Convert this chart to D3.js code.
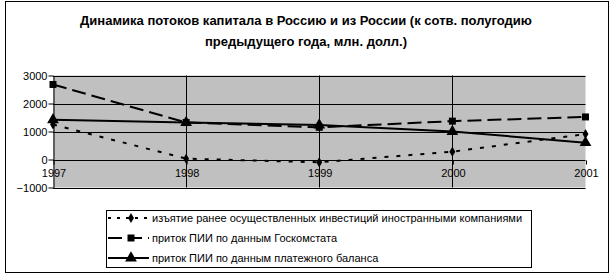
<!DOCTYPE html>
<html>
<head>
<meta charset="utf-8">
<script src="https://cdn.jsdelivr.net/npm/d3@7"></script>
<style>
  body { margin: 0; background: #fff; }
  svg { font-family: Arial, "Liberation Sans", sans-serif; }
</style>
</head>
<body>
<svg id="chart"></svg>
<script>
// chart data
const years = ['1997', '1998', '1999', '2000', '2001'];
const withdrawal = [1250, 30, -100, 280, 910];     // изъятие ранее осуществленных инвестиций
const goskomstat = [2680, 1320, 1150, 1370, 1520];  // приток ПИИ по данным Госкомстата
const balance = [1420, 1320, 1230, 1000, 600];      // приток ПИИ по данным платежного баланса
const yTicks = [-1000, 0, 1000, 2000, 3000];

const titleLines = ['Динамика потоков капитала в Россию и из России (к сотв. полугодию',
                    'предыдущего года, млн. долл.)'];
const seriesNames = ['изъятие ранее осуществленных инвестиций иностранными компаниями',
                     'приток ПИИ по данным Госкомстата',
                     'приток ПИИ по данным платежного баланса'];

const width = 614, height = 277;
const margin = {top: 76, left: 53, right: 28, bottom: 89};

const svg = d3.select('#chart')
    .attr('width', width)
    .attr('height', height);

// outer frame
svg.append('rect')
    .attr('x', 5.5).attr('y', 1.5)
    .attr('width', 603).attr('height', 271)
    .attr('fill', '#fff')
    .attr('stroke', '#000');

// title
svg.append('text')
    .attr('x', 306)
    .attr('y', 25)
    .attr('text-anchor', 'middle')
    .style('font-size', '13px')
    .style('font-weight', 'bold')
    .selectAll('tspan')
    .data(titleLines)
    .join('tspan')
    .attr('x', 306)
    .attr('dy', (d, i) => i === 0 ? 0 : 21)
    .text(d => d);

const x = d3.scalePoint()
    .domain(years)
    .range([margin.left, width - margin.right - 0.5]);

const y = d3.scaleLinear()
    .domain([-1000, 3000])
    .range([height - margin.bottom - 0.5, margin.top - 0.5]);

// plot area
svg.append('rect')
    .attr('x', margin.left)
    .attr('y', y(3000))
    .attr('width', x('2001') - margin.left)
    .attr('height', y(-1000) - y(3000))
    .attr('fill', '#c0c0c0');

// horizontal grid
svg.append('g')
    .selectAll('line')
    .data(yTicks)
    .join('line')
    .attr('x1', margin.left)
    .attr('x2', x('2001'))
    .attr('y1', d => Math.round(y(d)) + 0.5)
    .attr('y2', d => Math.round(y(d)) + 0.5)
    .attr('stroke', '#000');

// vertical grid
svg.append('g')
    .selectAll('line')
    .data(years.slice(1, -1))
    .join('line')
    .attr('x1', d => Math.round(x(d)) + 0.5)
    .attr('x2', d => Math.round(x(d)) + 0.5)
    .attr('y1', y(3000))
    .attr('y2', y(-1000))
    .attr('stroke', '#000');

// y axis
const yAxis = d3.axisLeft(y)
    .tickValues(yTicks)
    .tickFormat(d3.format('d'))
    .tickSize(5)
    .tickSizeOuter(0);

const yAxisG = svg.append('g')
    .attr('transform', `translate(${margin.left + 0.5},0)`)
    .call(yAxis);
yAxisG.selectAll('text')
    .style('font-size', '11px')
    .style('font-family', 'Arial, "Liberation Sans", sans-serif')
    .attr('x', -6)
    .attr('fill', '#000');
yAxisG.select('.domain').attr('stroke', '#000');

// x axis crossing at 0
const xAxis = d3.axisBottom(x)
    .tickSize(4)
    .tickSizeOuter(0);

const xAxisG = svg.append('g')
    .attr('transform', `translate(0.5,${Math.round(y(0)) + 0.5})`)
    .call(xAxis);
xAxisG.select('.domain').remove();
xAxisG.selectAll('text')
    .style('font-size', '11px')
    .style('font-family', 'Arial, "Liberation Sans", sans-serif')
    .attr('y', 9)
    .attr('fill', '#000');

// series
const series = [
  {name: seriesNames[0], values: withdrawal, dash: '4,8', symbol: d3.symbolDiamond, size: 30},
  {name: seriesNames[1], values: goskomstat, dash: '14,6', symbol: d3.symbolSquare, size: 49},
  {name: seriesNames[2], values: balance, dash: null, symbol: d3.symbolTriangle, size: 60}
];

const line = d3.line()
    .x((d, i) => x(years[i]))
    .y(d => y(d));

series.forEach(s => {
  svg.append('path')
      .datum(s.values)
      .attr('d', line)
      .attr('fill', 'none')
      .attr('stroke', '#000')
      .attr('stroke-width', 2)
      .attr('stroke-dasharray', s.dash);

  svg.append('g')
      .selectAll('path')
      .data(s.values)
      .join('path')
      .attr('transform', (d, i) => `translate(${x(years[i])},${y(d)})`)
      .attr('d', d3.symbol().type(s.symbol).size(s.size))
      .attr('fill', '#000');
});

// legend
const legend = svg.append('g');
legend.append('rect')
    .attr('x', 106.5).attr('y', 210.5)
    .attr('width', 425).attr('height', 57)
    .attr('fill', '#fff')
    .attr('stroke', '#000');

const rows = legend.selectAll('g.row')
    .data(series)
    .join('g')
    .attr('class', 'row')
    .attr('transform', (d, i) => `translate(0,${218 + i * 20})`);

rows.append('line')
    .attr('x1', 108).attr('x2', 149)
    .attr('y1', 0).attr('y2', 0)
    .attr('stroke', '#000')
    .attr('stroke-width', 2)
    .attr('stroke-dasharray', (d, i) => i === 0 ? '3,6' : i === 1 ? '14,6' : null);

rows.append('path')
    .attr('transform', 'translate(131,0)')
    .attr('d', d => d3.symbol().type(d.symbol).size(d.size)())
    .attr('fill', '#000');

rows.append('text')
    .attr('x', 152)
    .attr('y', 4)
    .style('font-size', '11px')
    .text(d => d.name);
</script>
</body>
</html>
